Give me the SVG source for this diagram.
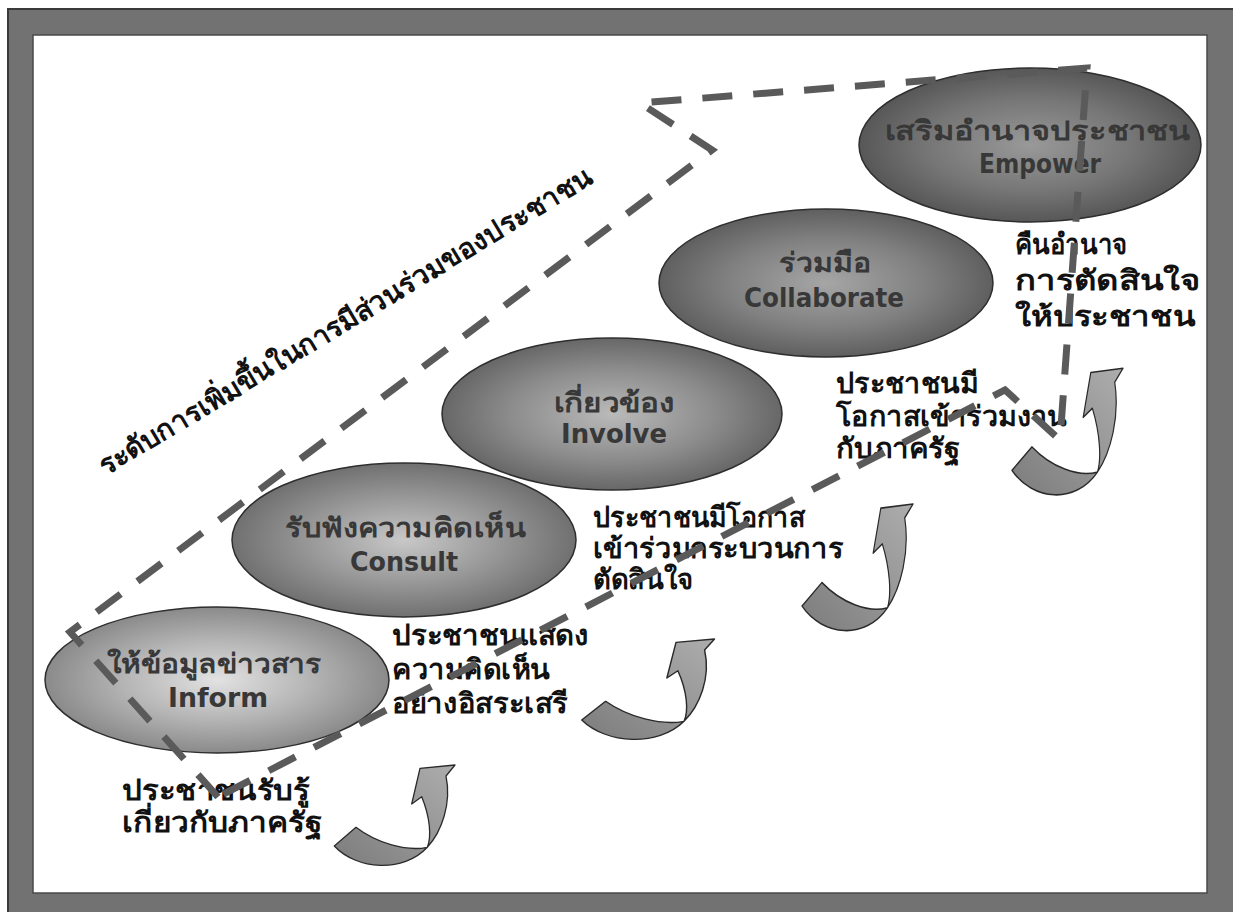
<svg xmlns="http://www.w3.org/2000/svg" xmlns:xlink="http://www.w3.org/1999/xlink" width="1233" height="912" viewBox="0 0 1233 912">
<style>
.lbl{font-family:Tahoma,'DejaVu Sans','Noto Sans',sans-serif;font-weight:bold;font-size:28px;fill:#111}
.nt{font-family:Tahoma,'DejaVu Sans','Noto Sans',sans-serif;font-weight:bold;font-size:27px;fill:#383838;text-anchor:middle}
.ell{stroke:#2e2e2e;stroke-width:1.5}
.dash{fill:none;stroke:#5a5a5a;stroke-width:7;stroke-dasharray:30 21;stroke-linejoin:miter}
.arr{fill:url(#ga);stroke:#2a2a2a;stroke-width:1.3;stroke-linejoin:round}
</style>
<defs>
<radialGradient id="g1" cx="50%" cy="50%" r="50%"><stop offset="0" stop-color="#e2e2e2"/><stop offset="0.55" stop-color="#b4b4b4"/><stop offset="1" stop-color="#8a8a8a"/></radialGradient>
<radialGradient id="g2" cx="50%" cy="50%" r="50%"><stop offset="0" stop-color="#c8c8c8"/><stop offset="0.6" stop-color="#949494"/><stop offset="1" stop-color="#707070"/></radialGradient>
<radialGradient id="g3" cx="50%" cy="50%" r="50%"><stop offset="0" stop-color="#bababa"/><stop offset="0.6" stop-color="#8c8c8c"/><stop offset="1" stop-color="#676767"/></radialGradient>
<radialGradient id="g4" cx="50%" cy="50%" r="50%"><stop offset="0" stop-color="#a6a6a6"/><stop offset="0.6" stop-color="#808080"/><stop offset="1" stop-color="#5f5f5f"/></radialGradient>
<radialGradient id="g5" cx="50%" cy="50%" r="50%"><stop offset="0" stop-color="#999999"/><stop offset="0.6" stop-color="#767676"/><stop offset="1" stop-color="#575757"/></radialGradient>
<linearGradient id="ga" x1="0" y1="1" x2="1" y2="0"><stop offset="0" stop-color="#7c7c7c"/><stop offset="1" stop-color="#adadad"/></linearGradient>
<path id="arrow" d="M14.3,106 C36.7,130 83.3,133.3 107.3,107.3 C121.7,91.7 131.7,63.3 126,36 L135,25 L100,28.3 L91.7,64 L101.7,56.7 C110,76.7 111.7,96.7 107.3,107.3 C86.7,111.7 56.7,103.3 36,87.3 Z"/>
</defs>
<g id="frame">
<rect x="8" y="9" width="1240" height="920" fill="#727272" stroke="#3a3a3a" stroke-width="2"/>
<rect x="33" y="35" width="1174" height="858" fill="#ffffff" stroke="#4a4a4a" stroke-width="1.5"/>
</g>
<g id="node-inform">
<ellipse class="ell" cx="217" cy="680" rx="172" ry="73" fill="url(#g1)"/>
<text class="nt" x="214" y="673" textLength="215" lengthAdjust="spacingAndGlyphs">ให้ข้อมูลข่าวสาร</text>
<text class="nt" x="218" y="707" textLength="100" lengthAdjust="spacingAndGlyphs">Inform</text>
</g>
<g id="node-consult">
<ellipse class="ell" cx="404" cy="540" rx="172" ry="77" fill="url(#g2)"/>
<text class="nt" x="405" y="537" textLength="240" lengthAdjust="spacingAndGlyphs">รับฟังความคิดเห็น</text>
<text class="nt" x="404" y="571" textLength="108" lengthAdjust="spacingAndGlyphs">Consult</text>
</g>
<g id="node-involve">
<ellipse class="ell" cx="612" cy="414" rx="170" ry="76" fill="url(#g3)"/>
<text class="nt" x="614" y="412" textLength="120" lengthAdjust="spacingAndGlyphs">เกี่ยวข้อง</text>
<text class="nt" x="614" y="443" textLength="106" lengthAdjust="spacingAndGlyphs">Involve</text>
</g>
<g id="node-collaborate">
<ellipse class="ell" cx="826" cy="283" rx="167" ry="74" fill="url(#g4)"/>
<text class="nt" x="825" y="272" textLength="92" lengthAdjust="spacingAndGlyphs">ร่วมมือ</text>
<text class="nt" x="824" y="307" textLength="160" lengthAdjust="spacingAndGlyphs">Collaborate</text>
</g>
<g id="node-empower">
<ellipse class="ell" cx="1030" cy="145" rx="171" ry="77" fill="url(#g5)"/>
<text class="nt" x="1037" y="140" textLength="305" lengthAdjust="spacingAndGlyphs">เสริมอำนาจประชาชน</text>
<text class="nt" x="1040" y="173" textLength="122" lengthAdjust="spacingAndGlyphs">Empower</text>
</g>
<g id="label-1">
<text class="lbl" x="122" y="800" textLength="188" lengthAdjust="spacingAndGlyphs">ประชาชนรับรู้</text>
<text class="lbl" x="122" y="832" textLength="200" lengthAdjust="spacingAndGlyphs">เกี่ยวกับภาครัฐ</text>
</g>
<g id="label-2">
<text class="lbl" x="392" y="645" textLength="197" lengthAdjust="spacingAndGlyphs">ประชาชนแสดง</text>
<text class="lbl" x="392" y="679" textLength="158" lengthAdjust="spacingAndGlyphs">ความคิดเห็น</text>
<text class="lbl" x="392" y="713" textLength="176" lengthAdjust="spacingAndGlyphs">อย่างอิสระเสรี</text>
</g>
<g id="label-3">
<text class="lbl" x="593" y="527" textLength="212" lengthAdjust="spacingAndGlyphs">ประชาชนมีโอกาส</text>
<text class="lbl" x="593" y="558" textLength="250" lengthAdjust="spacingAndGlyphs">เข้าร่วมกระบวนการ</text>
<text class="lbl" x="593" y="589" textLength="100" lengthAdjust="spacingAndGlyphs">ตัดสินใจ</text>
</g>
<g id="label-4">
<text class="lbl" x="836" y="393" textLength="142" lengthAdjust="spacingAndGlyphs">ประชาชนมี</text>
<text class="lbl" x="836" y="426" textLength="231" lengthAdjust="spacingAndGlyphs">โอกาสเข้าร่วมงาน</text>
<text class="lbl" x="836" y="458" textLength="124" lengthAdjust="spacingAndGlyphs">กับภาครัฐ</text>
</g>
<g id="label-5">
<text class="lbl" x="1015" y="254" textLength="112" lengthAdjust="spacingAndGlyphs">คืนอำนาจ</text>
<text class="lbl" x="1015" y="290" textLength="185" lengthAdjust="spacingAndGlyphs">การตัดสินใจ</text>
<text class="lbl" x="1015" y="326" textLength="180" lengthAdjust="spacingAndGlyphs">ให้ประชาชน</text>
</g>
<g id="axis-label">
<text class="lbl" x="350" y="329" text-anchor="middle" transform="rotate(-31 350 329)" textLength="570" lengthAdjust="spacingAndGlyphs">ระดับการเพิ่มขึ้นในการมีส่วนร่วมของประชาชน</text>
</g>
<g id="connectors">
<path class="dash" d="M218,797 L70,632 L712,150 L640,103 L1087,68 L1060,440 L1005,390 L218,797"/>
<use xlink:href="#arrow" class="arr" transform="translate(320,740)"/>
<use xlink:href="#arrow" class="arr" transform="translate(566,614) scale(1.1,1)"/>
<use xlink:href="#arrow" class="arr" transform="translate(788.8,472.5) scale(0.92,1.26)"/>
<use xlink:href="#arrow" class="arr" transform="translate(998.8,336.8) scale(0.92,1.26)"/>
</g>
</svg>
